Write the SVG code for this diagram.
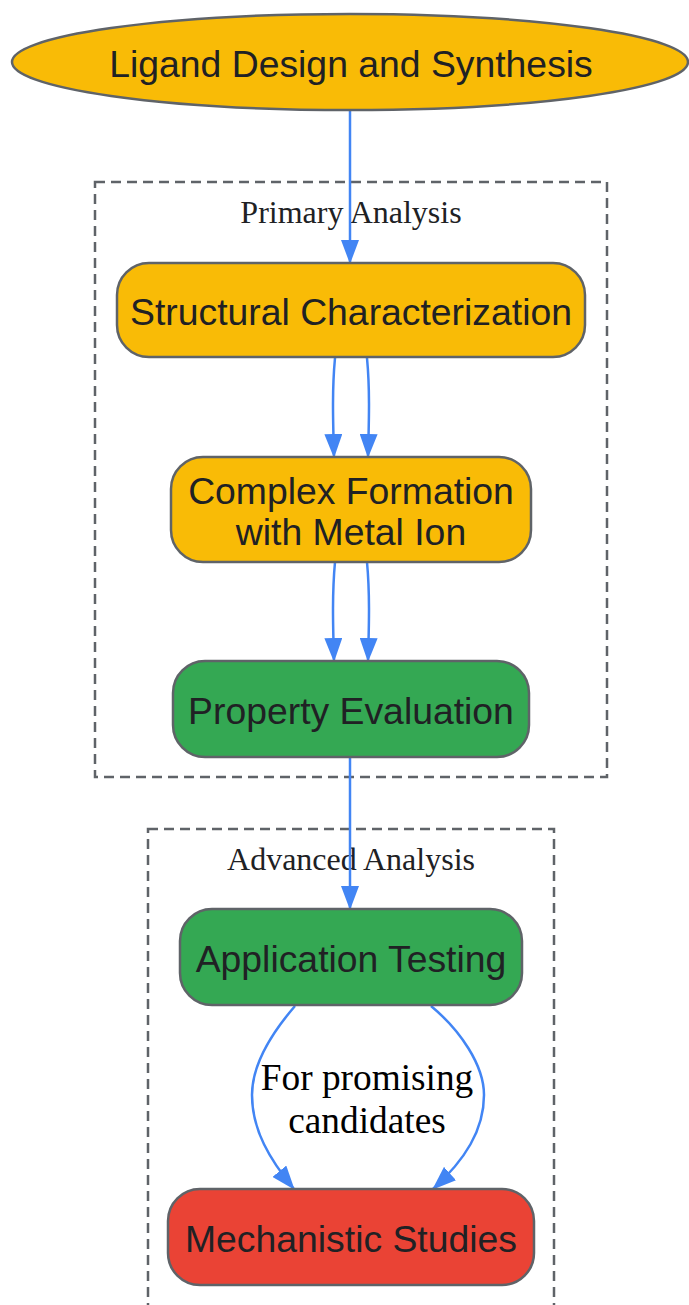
<svg xmlns="http://www.w3.org/2000/svg" width="689" height="1305" viewBox="0 0 689 1305">
<style>
.node{stroke:#5f6368;stroke-width:2.5}
.yel{fill:#f9bb06}
.grn{fill:#34a853}
.red{fill:#ea4335}
.nt{font-family:"Liberation Sans",Arial,sans-serif;font-size:37.33px;fill:#202124;text-anchor:middle}
.cl{fill:none;stroke:#5f6368;stroke-width:2.5;stroke-dasharray:10,6}
.ct{font-family:"Liberation Serif","Times New Roman",serif;font-size:32px;fill:#202124;text-anchor:middle}
.e{fill:none;stroke:#4285f4;stroke-width:2.5;marker-end:url(#ah)}
.lt{font-family:"Liberation Serif","Times New Roman",serif;font-size:37.33px;fill:#000;text-anchor:middle}
</style>
<defs>
<marker id="ah" viewBox="0 0 24 18" refX="23" refY="9" markerWidth="24" markerHeight="18" orient="auto" markerUnits="userSpaceOnUse">
<path d="M0,0 L24,9 L0,18 z" fill="#4285f4"/>
</marker>
</defs>
<rect width="689" height="1305" fill="#fff"/>
<g id="cluster-primary">
<rect class="cl" x="95" y="182" width="512" height="595"/>
<text class="ct" x="351" y="223">Primary Analysis</text>
</g>
<g id="cluster-advanced">
<rect class="cl" x="148" y="829" width="406" height="500"/>
<text class="ct" x="351" y="870">Advanced Analysis</text>
</g>
<g id="connectors">
<path class="e" d="M350,110 L350,263"/>
<path class="e" d="M335,358 C332,390 333,420 334,457"/>
<path class="e" d="M367,358 C370,390 369,420 368,457"/>
<path class="e" d="M335,562 C332,595 333,625 334,661"/>
<path class="e" d="M367,562 C370,595 369,625 368,661"/>
<path class="e" d="M350,757 L350,909"/>
<path class="e" d="M295,1006 C270,1035 252,1065 252,1095 C252,1130 270,1160 294,1189"/>
<path class="e" d="M431,1006 C460,1030 484,1065 484,1095 C484,1130 465,1160 433,1189"/>
<text class="lt" x="367" y="1090">For promising</text>
<text class="lt" x="367" y="1133">candidates</text>
</g>
<g id="ligand">
<ellipse class="node yel" cx="350" cy="62" rx="338" ry="48"/>
<text class="nt" x="351" y="77">Ligand Design and Synthesis</text>
</g>
<g id="structural">
<rect class="node yel" x="117" y="263" width="468" height="94" rx="32"/>
<text class="nt" x="351" y="325">Structural Characterization</text>
</g>
<g id="complex">
<rect class="node yel" x="171" y="457" width="360" height="105" rx="32"/>
<text class="nt" x="351" y="504">Complex Formation</text>
<text class="nt" x="351" y="545">with Metal Ion</text>
</g>
<g id="property">
<rect class="node grn" x="173" y="661" width="356" height="96" rx="32"/>
<text class="nt" x="351" y="724">Property Evaluation</text>
</g>
<g id="application">
<rect class="node grn" x="180" y="909" width="342" height="96" rx="32"/>
<text class="nt" x="351" y="972">Application Testing</text>
</g>
<g id="mechanistic">
<rect class="node red" x="168" y="1189" width="366" height="96" rx="32"/>
<text class="nt" x="351" y="1252">Mechanistic Studies</text>
</g>
</svg>
